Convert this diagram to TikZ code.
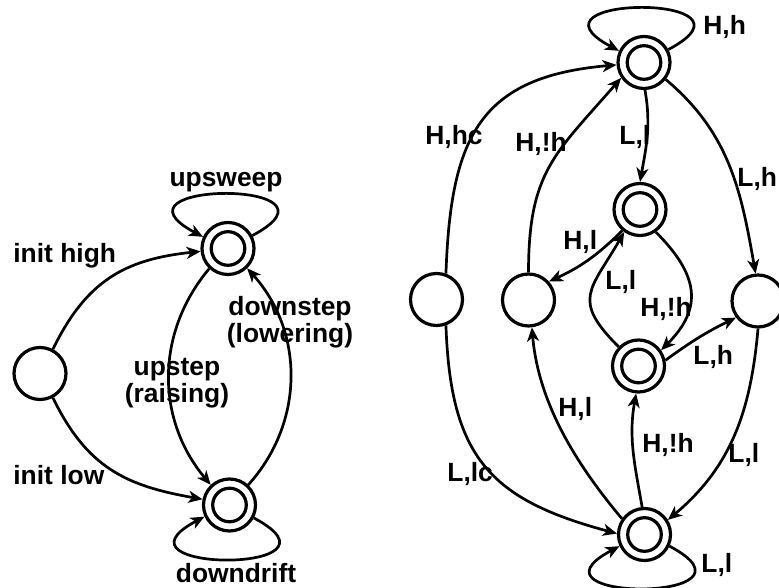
\documentclass[tikz,border=0pt]{standalone}
\usepackage{fontspec}
\setmainfont{Liberation Sans}
\usetikzlibrary{arrows.meta}
\begin{document}
\begin{tikzpicture}[x=0.5pt, y=0.5pt,
  state/.style={circle, draw, line width=1.6pt, minimum size=26pt, inner sep=0pt},
  final/.style={state, path picture={\draw[line width=1.6pt] (path picture bounding box.center) circle (8.4pt);}},
  edge/.style={line width=1.35pt, -{Stealth[length=7pt,width=6pt,inset=2pt]}},
  lbl/.style={font=\fontsize{13.2}{13.5}\selectfont\bfseries, inner sep=0pt, align=center},
]
\useasboundingbox (0,0) rectangle (779,587);

% ---------- pitch-accent automaton (left) ----------
\node[state] (I0) at (40,213.5) {};
\node[final] (US) at (228,338.5) {};
\node[final] (DD) at (229.5,82) {};

\draw[edge] (I0.62) to[out=64, in=186, looseness=1.1] (US.186);
\draw[edge] (I0.-62) to[out=-64, in=170, looseness=1.1] (DD.168);
\draw[edge] (US.227) to[out=230, in=130] (DD.133);
\draw[edge] (DD.47) to[out=48, in=-48] (US.-46);
\draw[edge] (US.28) .. controls +(28:120) and +(152:120) .. (US.155);
\draw[edge] (DD.-28) .. controls +(-28:120) and +(-152:120) .. (DD.-155);

\node[lbl, anchor=base] (tUS) at (226,400) {upsweep};
\node[lbl, anchor=base] (tDD) at (236,4) {downdrift};
\node[lbl, anchor=base west] (tHi) at (13,324) {init high};
\node[lbl, anchor=base west] (tLo) at (13,102) {init low};
\node[lbl, anchor=base] (tUp) at (177,184) {upstep\\(raising)};
\node[lbl, anchor=base] (tDn) at (290,244) {downstep\\(lowering)};

% ---------- tone automaton (right) ----------
\node[final] (A) at (644,524.5) {};
\node[final] (B) at (640,377.5) {};
\node[final] (D) at (638.5,221) {};
\node[final] (E) at (644.5,52.5) {};
\node[state] (C1) at (436.5,287.5) {};
\node[state] (C2) at (528.5,287) {};
\node[state] (C3) at (758,286) {};

\draw[edge] (A.28) .. controls +(28:120) and +(152:120) .. (A.155);
\draw[edge] (E.-25) .. controls +(-28:120) and +(-152:120) .. (E.-155);
\draw[edge] (A.-88) to[out=-80, in=80] (B.90);
\draw[edge] (A.-38) to[out=-40, in=100] (C3.95);
\draw[edge] (C1.70) to[out=88, in=185, looseness=1.3] (A.185);
\draw[edge] (C2.90) to[out=90, in=229, looseness=1.2] (A.214);
\draw[edge] (B.230) to[bend left=10] (C2.42);
\draw[edge] (B.-55) to[out=-45, in=45, looseness=1.3] (D.35);
\draw[edge] (D.136) to[out=135, in=240, looseness=1.5] (B.235);
\draw[edge] (D.12) to[bend left=5] (C3.217);
\draw[edge] (E.145) to[out=130, in=-85, looseness=0.9] (C2.-83);
\draw[edge] (E.95) to[out=100, in=-100] (D.-95);
\draw[edge] (C3.-90) to[out=-95, in=40] (E.32);
\draw[edge] (C1.-70) to[out=-88, in=165, looseness=1.25] (E.178);

\node[lbl, anchor=base west] (tHh) at (703,552) {H,h};
\node[lbl, anchor=base west] (tLl1) at (619,442) {L,l};
\node[lbl, anchor=base west] (tLh1) at (737,400) {L,h};
\node[lbl, anchor=base west] (tHhc) at (425,442) {H,hc};
\node[lbl, anchor=base west] (tHnh1) at (515,435) {H,!h};
\node[lbl, anchor=base west] (tHl1) at (563,337) {H,l};
\node[lbl, anchor=base west] (tLl2) at (605,297) {L,l};
\node[lbl, anchor=base west] (tHnh2) at (640,270) {H,!h};
\node[lbl, anchor=base west] (tLh2) at (693,222) {L,h};
\node[lbl, anchor=base west] (tHl2) at (558,170) {H,l};
\node[lbl, anchor=base west] (tHnh3) at (642,134) {H,!h};
\node[lbl, anchor=base west] (tLl3) at (728,124) {L,l};
\node[lbl, anchor=base west] (tLlc) at (447,105) {L,lc};
\node[lbl, anchor=base west] (tLl4) at (701,15) {L,l};
\end{tikzpicture}
\end{document}
